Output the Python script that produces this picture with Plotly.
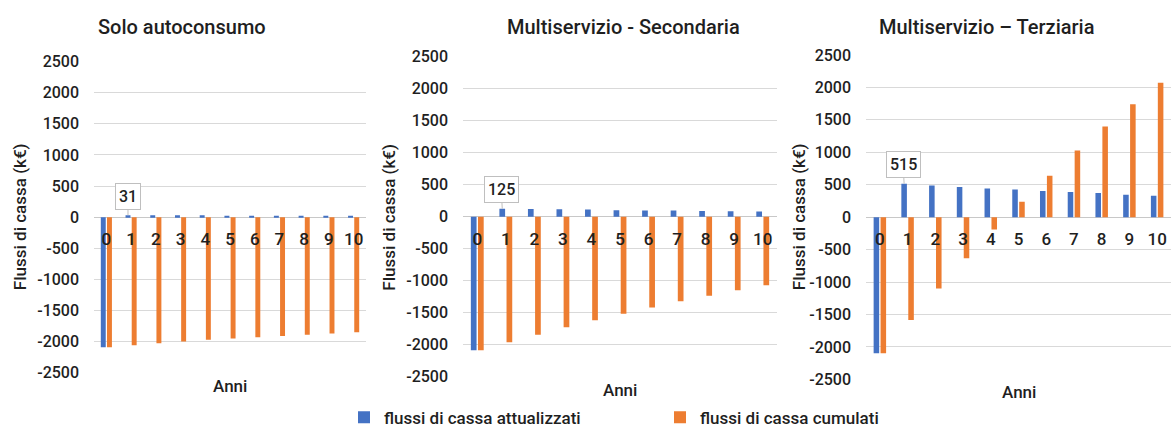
import plotly.graph_objects as go

# ---- data -------------------------------------------------------------
anni = [0, 1, 2, 3, 4, 5, 6, 7, 8, 9, 10]

titoli = ["Solo autoconsumo", "Multiservizio - Secondaria", "Multiservizio – Terziaria"]

# flussi di cassa attualizzati (k€)
attualizzati_auto = [-2090, 31, 30, 30, 29, 20, 20, 20, 20, 20, 20]
attualizzati_sec = [-2090, 125, 118, 115, 113, 100, 98, 96, 88, 85, 80]
attualizzati_ter = [-2100, 515, 486, 466, 442, 427, 402, 388, 370, 345, 330]

# flussi di cassa cumulati (k€)
cumulati_auto = [-2090, -2059, -2029, -1999, -1970, -1950, -1930, -1910, -1890, -1870, -1850]
cumulati_sec = [-2090, -1965, -1847, -1732, -1619, -1519, -1421, -1325, -1237, -1152, -1072]
cumulati_ter = [-2100, -1585, -1099, -633, -191, 236, 638, 1026, 1396, 1741, 2071]

y_ticks = [-2500, -2000, -1500, -1000, -500, 0, 500, 1000, 1500, 2000, 2500]
y_tick_labels = ["-2500", "-2000", "-1500", "-1000", "-500", "0",
                 "500", "1000", "1500", "2000", "2500"]

# ---- style ------------------------------------------------------------
W, H = 1171, 441
BLUE = "#4472C4"
ORANGE = "#ED7D31"
GRID = "#D9D9D9"
TXT = "#1f1f1f"
FONT = "Roboto"
WEIGHT = 500

# plot-area boxes in pixels: left, right, top(2500), bottom(-2500)
boxes = [
    dict(l=94, r=366, t=55, b=380),
    dict(l=463, r=777, t=50, b=384),
    dict(l=866, r=1171, t=48, b=387),
]
title_pos = [
    dict(x=96, y=19, anchor="left"),
    dict(x=623, y=19, anchor="center"),
    dict(x=987, y=19, anchor="center"),
]
ytitle_x = [20, 389, 799]
anni_y = [394, 398, 400]
callout_shift = [0, -1, -1]

series = [
    (attualizzati_auto, cumulati_auto),
    (attualizzati_sec, cumulati_sec),
    (attualizzati_ter, cumulati_ter),
]


def px_x(v):
    return v / W


def px_y(v):
    return 1 - v / H


def font(size):
    return dict(family=FONT, size=size, color=TXT, weight=WEIGHT)


fig = go.Figure()
annotations = []
layout_axes = {}

for i, (att, cum) in enumerate(series):
    n = "" if i == 0 else str(i + 1)
    bx = boxes[i]
    fig.add_trace(go.Bar(
        x=anni, y=att, name="flussi di cassa attualizzati",
        marker=dict(color=BLUE, line=dict(width=0)),
        xaxis="x" + n, yaxis="y" + n,
        legendgroup="att", showlegend=(i == 0),
    ))
    fig.add_trace(go.Bar(
        x=anni, y=cum, name="flussi di cassa cumulati",
        marker=dict(color=ORANGE, line=dict(width=0)),
        xaxis="x" + n, yaxis="y" + n,
        legendgroup="cum", showlegend=(i == 0),
    ))

    zero_px = (bx["t"] + bx["b"]) / 2
    layout_axes["xaxis" + n] = dict(
        domain=[px_x(bx["l"]), px_x(bx["r"])],
        range=[-0.5, 10.5], tickvals=anni, ticktext=[str(a) for a in anni],
        anchor="free", position=px_y(zero_px),
        showgrid=False, zeroline=False, showline=False, ticks="",
        ticklabelstandoff=10,
        tickfont=font(17),
        fixedrange=True,
    )
    layout_axes["yaxis" + n] = dict(
        domain=[px_y(bx["b"]), px_y(bx["t"])],
        range=[-2500, 2500], tickvals=y_ticks, ticktext=y_tick_labels,
        anchor="x" + n, showgrid=True, gridcolor=GRID, gridwidth=1,
        zeroline=True, zerolinecolor="#C8C8C8", zerolinewidth=1,
        showline=False, ticks="", ticklabelstandoff=14,
        tickfont=font(16),
        fixedrange=True,
    )

    tp = title_pos[i]
    annotations.append(dict(
        text=titoli[i], xref="paper", yref="paper",
        x=px_x(tp["x"]), y=px_y(tp["y"]), xanchor=tp["anchor"], yanchor="middle",
        showarrow=False, font=font(20),
    ))
    annotations.append(dict(
        text="Flussi di cassa (k€)", xref="paper", yref="paper",
        x=px_x(ytitle_x[i]), y=px_y(zero_px), xanchor="center", yanchor="middle",
        textangle=-90, showarrow=False, font=font(17),
    ))
    annotations.append(dict(
        text="Anni", xref="paper", yref="paper",
        x=px_x((bx["l"] + bx["r"]) / 2), y=px_y(anni_y[i]),
        xanchor="center", yanchor="middle",
        showarrow=False, font=font(17),
    ))
    # data callout on year 1 of the discounted flows
    annotations.append(dict(
        text=str(att[1]), xref="x" + n, yref="y" + n,
        x=1, y=att[1], xshift=-0.125 * (bx["r"] - bx["l"]) / 11,
        showarrow=True, arrowhead=0, arrowwidth=1, arrowcolor="#BFBFBF",
        ax=callout_shift[i], ay=-19,
        bgcolor="white", bordercolor="#BFBFBF", borderwidth=1, borderpad=3,
        font=font(16),
    ))

fig.update_layout(
    width=W, height=H,
    margin=dict(l=0, r=0, t=0, b=0),
    paper_bgcolor="white", plot_bgcolor="white",
    barmode="group", bargap=0.5, bargroupgap=0.2,
    showlegend=True,
    legend=dict(
        orientation="h", x=px_x(344), y=px_y(427), xanchor="left", yanchor="middle",
        entrywidth=271, entrywidthmode="pixels",
        font=font(17),
        bgcolor="rgba(0,0,0,0)", itemclick=False, itemdoubleclick=False,
    ),
    annotations=annotations,
    **layout_axes,
)

fig.write_html("out.html", include_plotlyjs=True, config=dict(displayModeBar=False))
